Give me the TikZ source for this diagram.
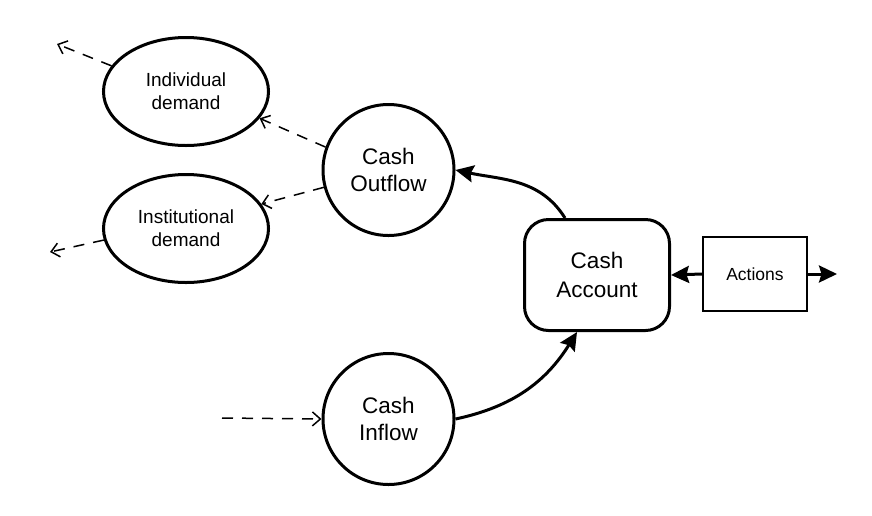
\documentclass[tikz,border=0pt]{standalone}
\usepackage{fontspec}
\setmainfont{Liberation Sans}
\usetikzlibrary{shapes.geometric,arrows.meta}
\tikzset{
  thickbox/.style={draw, line width=3pt, align=center, inner sep=0pt},
  ellnode/.style={thickbox, ellipse, minimum width=165pt, minimum height=108pt, font=\fontsize{19}{23.3}\selectfont},
  circnode/.style={thickbox, circle, minimum size=131pt, font=\fontsize{22.5}{27.8}\selectfont},
  accnode/.style={thickbox, rectangle, rounded corners=24pt, minimum width=145pt, minimum height=111pt, font=\fontsize{22.5}{28.5}\selectfont},
  actnode/.style={draw, line width=1.6pt, rectangle, minimum width=104pt, minimum height=74pt, inner sep=0pt, font=\fontsize{17.5}{21}\selectfont},
  dasharrow/.style={line width=1.5pt, dash pattern=on 11pt off 9pt, -{Straight Barb[length=8pt,width=14pt]}},
  solidarrow/.style={line width=3pt, -{Stealth[length=18pt,width=17pt,inset=2.5pt]}},
}
\begin{document}
\begin{tikzpicture}
\useasboundingbox (0,0) rectangle (872pt,-515pt);
\begin{scope}[x=1pt,y=1pt]
\node[ellnode] (indiv) at (186,-91.5) {Individual\\demand};
\node[ellnode] (inst) at (186,-228.5) {Institutional\\demand};
\node[circnode] (out) at (388.5,-170) {Cash\\Outflow};
\node[circnode] (cin) at (388.5,-419) {Cash\\Inflow};
\node[accnode] (acc) at (597,-275) {Cash\\Account};
\node[actnode] (act) at (755,-274) {Actions};

\coordinate (fa) at (57,-44);
\coordinate (fb) at (50,-252);
\coordinate (fc) at (222,-418);
\coordinate (fd) at (837,-274);

\draw[dasharrow] (out.160.5) -- (indiv.-20);
\draw[dasharrow] (out.195.5) -- (inst.18);
\draw[dasharrow] (indiv.161.5) -- (fa);
\draw[dasharrow] (inst.188.6) -- (fb);
\draw[dasharrow] (fc) -- (cin.west);

\draw[solidarrow] ([xshift=-32pt]acc.north) to[out=122,in=-12] (out.east);
\draw[solidarrow] (cin.east) to[out=12,in=-122] ([xshift=-20pt]acc.south);
\draw[solidarrow] (act.west) -- (acc.east);
\draw[solidarrow] (act.east) -- (fd);
\end{scope}
\end{tikzpicture}
\end{document}
